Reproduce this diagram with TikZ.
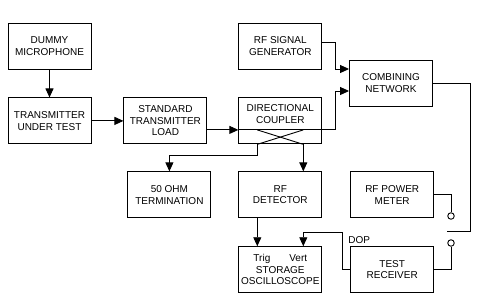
\documentclass[tikz,border=0pt]{standalone}
\usepackage{fontspec}
\setmainfont{Liberation Sans}
\usepackage{tikz}
\usetikzlibrary{arrows.meta,positioning}
\tikzset{
  blbox/.style={draw, line width=.9pt, align=center, minimum width=83pt, minimum height=46pt, inner sep=1pt},
  bllab/.style={align=center, inner sep=0pt},
  blarr/.style={-{Triangle[length=9pt, width=8pt]}, line width=.9pt},
  blline/.style={line width=.9pt},
  blcont/.style={draw, circle, line width=.9pt, fill=white, minimum size=6.5pt, inner sep=0pt}
}
\begin{document}
\begin{tikzpicture}[x=1pt, y=-1pt, font=\fontsize{10}{11.6}\selectfont, node distance=28pt and 31pt]
  \useasboundingbox (0,0) rectangle (479,306);
  \node[blbox] (mic) at (49.5,46) {DUMMY\\MICROPHONE};
  \node[blbox, below=of mic] (tut) {TRANSMITTER\\UNDER TEST};
  \node[blbox, right=32pt of tut] (load) {STANDARD\\TRANSMITTER\\LOAD};
  \node[blbox, right=of load] (dc) {};
  \node[bllab] (dclab) at ([yshift=7pt]dc.center) {DIRECTIONAL\\COUPLER};
  \node[blbox, above=of dc] (rfgen) {RF SIGNAL\\GENERATOR};
  \node[blbox] (comb) at (391,83) {COMBINING\\NETWORK};
  \node[blbox, below=27pt of dc] (det) {RF\\DETECTOR};
  \node[blbox, left=27pt of det] (term) {50 OHM\\TERMINATION};
  \node[blbox, below=of det, font=\fontsize{10}{11.5}\selectfont] (scope) {Trig\hspace{19pt}Vert\\STORAGE\\OSCILLOSCOPE};
  \node[blbox, right=28pt of det] (meter) {RF POWER\\METER};
  \node[blbox, right=28pt of scope] (rx) {TEST\\RECEIVER};
  \node[bllab, anchor=base west] (dop) at ([xshift=-2pt, yshift=3pt]rx.north west) {DOP};
  % switch contacts
  \node[blcont] (c1) at (451,216) {};
  \node[blcont] (c2) at (451,243) {};
  \coordinate (sw) at (447,231);
  \coordinate (vert) at ([xshift=23pt, yshift=14pt]scope.north);

  \draw[blarr] (mic) -- (tut);
  \draw[blarr] (tut) -- (load);
  \draw[blarr] ([yshift=-9pt]load.east) -- ([yshift=-9pt]dc.west);
  \draw[blline] ([yshift=-9pt]dc.west) -- ([yshift=-9pt]dc.east);
  \draw[blline] ([xshift=-23pt, yshift=-9pt]dc.center) -- ([xshift=23pt]dc.south);
  \draw[blline] ([xshift=23pt, yshift=-9pt]dc.center) -- ([xshift=-23pt]dc.south);
  \draw[blarr] ([yshift=-9pt]dc.east) -| ([xshift=-14pt, yshift=-8pt]comb.west) -- ([yshift=-8pt]comb.west);
  \draw[blarr] ([yshift=4pt]rfgen.east) -| ([xshift=-14pt, yshift=14pt]comb.west) -- ([yshift=14pt]comb.west);
  \draw[blarr] ([xshift=-23pt]dc.south) -- ++(0,11) -| (term);
  \draw[blarr] ([xshift=23pt]dc.south) -- ([xshift=23pt]det.north);
  \draw[blarr] ([xshift=-23pt]det.south) -- ([xshift=-23pt]scope.north);
  \draw[blarr] (rx.west) -- ++(-8,0) |- (vert) -- ([xshift=23pt]scope.north);
  \draw[blline] (meter.east) -| (c1);
  \draw[blline] (c2) |- (rx.east);
  \draw[blline] (comb.east) -| ([xshift=23pt]sw) -- (sw);
\end{tikzpicture}
\end{document}
